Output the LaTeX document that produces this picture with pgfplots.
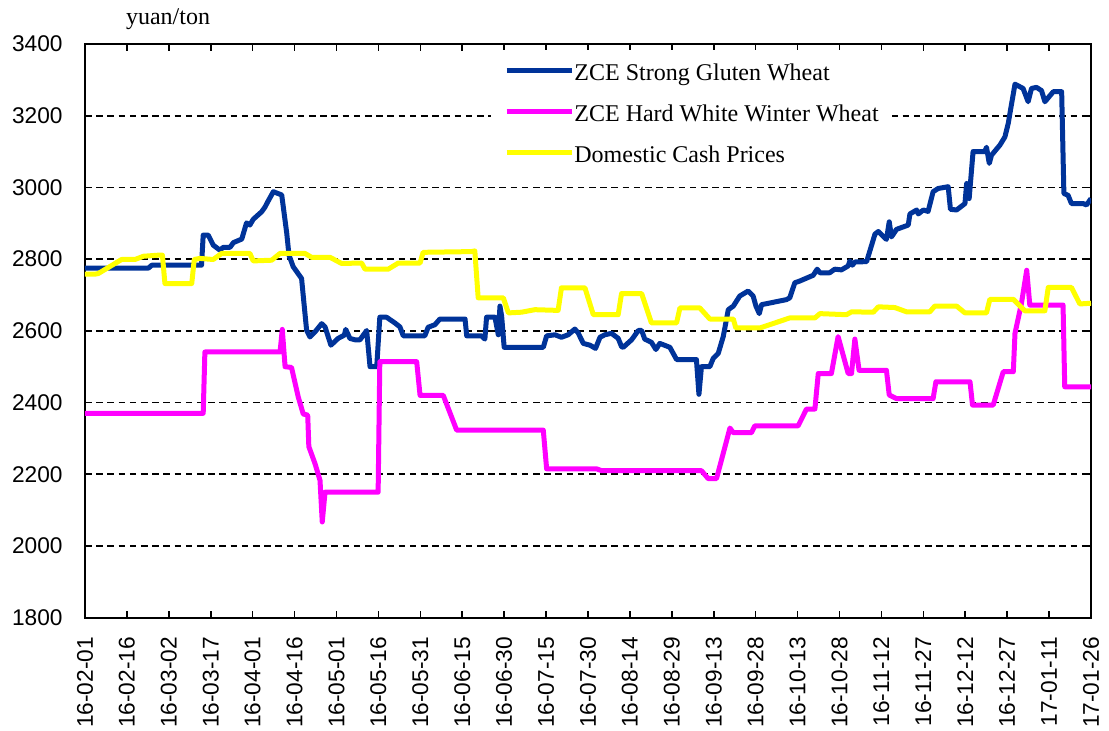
\documentclass[border=0pt]{standalone}
\usepackage{fontspec}
\setmainfont{Liberation Serif}
\newfontfamily\arialfont{Liberation Sans}
\usepackage{pgfplots}
\pgfplotsset{compat=1.18}
\definecolor{zceblue}{HTML}{003399}
\definecolor{zcemag}{HTML}{FF00FF}
\definecolor{cashyel}{HTML}{FFFF00}
\begin{document}
\begin{tikzpicture}
\path[use as bounding box] (-42.5pt,-56.65pt) rectangle (512pt,308.85pt);
\begin{axis}[
  scale only axis, width=503pt, height=286.85pt,
  xmin=0, xmax=360, ymin=1800, ymax=3400,
  axis line style={line width=1pt},
  xtick={0,15,...,360},
  xticklabels={16-02-01,16-02-16,16-03-02,16-03-17,16-04-01,16-04-16,16-05-01,16-05-16,16-05-31,16-06-15,16-06-30,16-07-15,16-07-30,16-08-14,16-08-29,16-09-13,16-09-28,16-10-13,16-10-28,16-11-12,16-11-27,16-12-12,16-12-27,17-01-11,17-01-26},
  ytick={1800,2000,...,3400},
  tick align=inside,
  major tick length=3.5pt,
  tick style={line width=0.8pt, black},
  ymajorgrids,
  grid style={dash pattern=on 3.3pt off 2.3pt, line width=0.8pt, black},
  xticklabel style={font=\arialfont\fontsize{11.35}{13}\selectfont, yshift=-9.5pt, rotate=90, anchor=east, inner sep=0pt},
  yticklabel style={font=\arialfont\fontsize{11.35}{13}\selectfont, inner sep=0pt, xshift=-11pt},
  /pgf/number format/.cd, 1000 sep={}, assume math mode=true,
  /pgfplots/.cd,
  legend style={draw=none, fill=white, at={(0.4036,0.9895)}, anchor=north west,
    inner xsep=6.5pt, inner ysep=6pt, row sep=8.9pt,
    font=\fontsize{12}{14}\selectfont,
    nodes={inner sep=0pt, text height=9pt, text depth=2.6pt}},
  legend cell align=left,
  legend image code/.code={\draw[#1] (0pt,2pt) -- (28.5pt,2pt); \path (0pt,2pt) -- (32.5pt,2pt);},
  every axis plot/.append style={line width=2.5pt, line join=round, no markers},
]
\addplot[zceblue] coordinates {
(0,2775) (22.7,2775) (23.9,2783) (41.7,2783) (42.3,2867) (44.1,2867) (45.9,2839) (48.3,2825) (49.5,2833) (51.9,2833)
(53.1,2846) (56.1,2856) (57.8,2901) (59,2895) (60.2,2911) (63.2,2932) (64.4,2945) (65.4,2960) (67.4,2988) (70.4,2979)
(72.2,2872) (73,2811) (74.5,2779) (77.5,2746) (79.3,2602) (80.5,2583) (82.3,2597) (84.7,2620) (85.9,2611) (88,2560)
(90.6,2579) (92.8,2588) (93.3,2604) (94.8,2579) (96.6,2575) (98.4,2575) (100.8,2601) (102,2500) (104.4,2500) (105.5,2638)
(107.9,2638) (110.9,2622) (112.7,2611) (113.9,2586) (121.6,2586) (122.8,2610) (125.2,2617) (127,2633) (136,2633) (136.6,2586)
(141.9,2586) (143.1,2577) (143.7,2638) (146.7,2638) (147.9,2589) (148.5,2669) (149.1,2641) (150,2554) (164,2554) (165.2,2586)
(168.2,2589) (170.5,2582) (172.9,2589) (175.3,2605) (176.5,2594) (178.3,2565) (180.7,2560) (182.7,2551) (184.3,2582) (186,2589)
(188.4,2593) (190.8,2579) (192,2556) (192.6,2554) (195.6,2575) (198,2601) (199.2,2601) (200.3,2577) (202.7,2568) (204.3,2548)
(205.7,2565) (209.3,2554) (211.7,2520) (218.8,2520) (219.7,2423) (220.6,2500) (223.6,2500) (224.8,2523) (226.6,2537) (228.4,2584)
(230.2,2659) (232,2669) (234.3,2697) (237.3,2711) (239.1,2697) (240.1,2669) (241.3,2648) (242.1,2673) (251,2687) (252.2,2692)
(254,2734) (255.8,2739) (259.4,2751) (260.6,2755) (262,2772) (263,2762) (266.5,2762) (268.3,2772) (270.7,2770) (273.1,2781)
(273.7,2795) (274.6,2783) (275.5,2792) (279.7,2793) (282.7,2870) (283.9,2877) (286.8,2855) (287.8,2904) (288.6,2862) (290.4,2883)
(294.6,2895) (295.2,2926) (297.6,2937) (298.2,2926) (300,2937) (301.7,2933) (303.5,2988) (305.3,2997) (308.9,3002) (309.7,2939)
(311.9,2937) (314.9,2955) (315.5,3011) (316.4,2969) (317.8,3100) (322,3100) (322.6,3112) (323.6,3067) (324.4,3090) (327.4,3118)
(329.2,3141) (330.4,3179) (331,3207) (332.8,3288) (335.7,3276) (337.5,3239) (338.7,3276) (340.5,3279) (342.3,3270) (343.5,3239)
(346.5,3267) (349.5,3267) (350.3,2983) (351.8,2978) (353,2955) (357.2,2955) (358.4,2951) (360,2969)
};
\addlegendentry{ZCE Strong Gluten Wheat}
\addplot[zcemag] coordinates {
(0,2370) (42.3,2370) (42.9,2541) (69.8,2541) (70.6,2604) (71.6,2500) (73.9,2498) (76.3,2416) (78.1,2368) (79.7,2365)
(80.1,2277) (82.3,2230) (84.1,2183) (84.9,2067) (85.9,2150) (104.9,2150) (105.5,2514) (118.7,2514) (119.9,2420) (128.2,2420)
(133,2323) (164,2323) (165.2,2215) (183.1,2215) (184.9,2210) (220.6,2210) (223,2188) (226,2188) (230.8,2329) (232,2316)
(238.5,2316) (239.7,2335) (255.2,2335) (258.2,2382) (261.2,2382) (262.4,2481) (267.1,2481) (269.5,2584) (273.1,2481) (274.3,2481)
(275.5,2577) (277,2490) (286.8,2490) (287.8,2421) (290.4,2411) (303.5,2411) (304.5,2458) (316.7,2458) (317.6,2393) (325,2393)
(328.6,2486) (332.2,2486) (332.8,2593) (335.1,2676) (337,2769) (338.1,2672) (350,2672) (350.6,2444) (360,2444)
};
\addlegendentry{ZCE Hard White Winter Wheat}
\addplot[cashyel] coordinates {
(0,2758) (3.6,2758) (4.8,2760) (13.1,2799) (17.9,2799) (20.9,2808) (26.2,2811) (27.7,2811) (28.6,2732) (38.2,2732)
(39.1,2799) (41.1,2802) (45.9,2799) (48.9,2816) (59,2816) (60.2,2795) (66.8,2797) (69.8,2816) (78.7,2816) (81.1,2805)
(87.7,2805) (91.8,2788) (99,2789) (100.2,2772) (108.5,2772) (112.1,2789) (119.9,2789) (121,2819) (138.3,2821) (139.5,2823)
(140.7,2692) (149.7,2692) (151.5,2650) (156.2,2652) (161,2659) (169.3,2657) (170.5,2720) (178.9,2720) (181.9,2645) (190.8,2645)
(192,2704) (199.2,2704) (202.7,2622) (211.7,2622) (212.9,2664) (220,2664) (223.6,2633) (232,2633) (232.9,2608) (241.5,2608)
(252.2,2636) (261.2,2636) (263,2648) (272.5,2645) (274.3,2653) (282.1,2652) (283.9,2667) (289.8,2665) (294,2653) (302.3,2653)
(304.1,2669) (311.9,2669) (314.9,2650) (322.6,2650) (323.8,2688) (332.2,2688) (336.3,2656) (343.5,2656) (344.7,2721) (353,2721)
(356,2675) (360,2677)
};
\addlegendentry{Domestic Cash Prices}
\end{axis}
\node[anchor=base, font=\fontsize{12}{14}\selectfont, inner sep=0pt] at (41.5pt,296.35pt) {yuan/ton};
\end{tikzpicture}
\end{document}
